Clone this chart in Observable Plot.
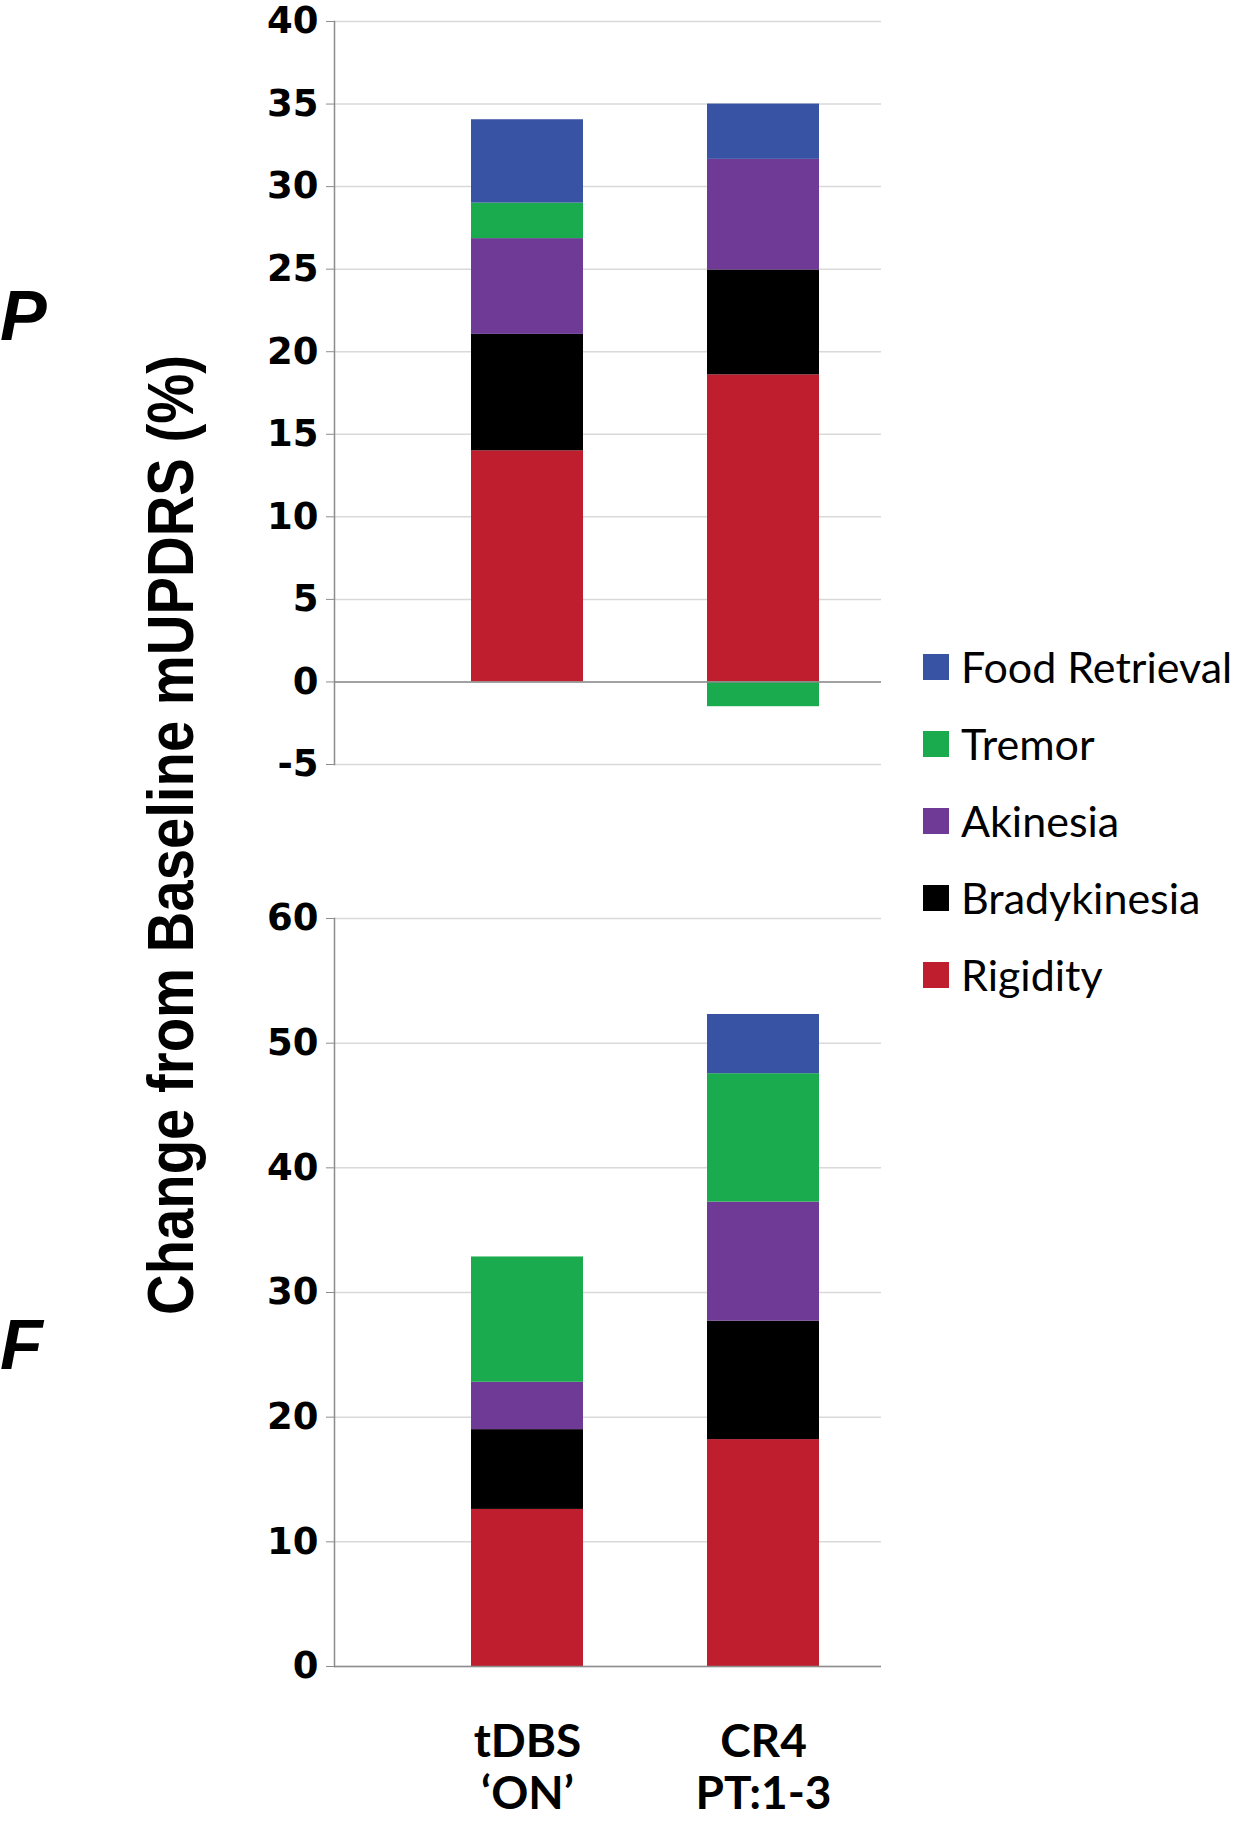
<!DOCTYPE html>
<html><head><meta charset="utf-8">
<script src="https://cdn.jsdelivr.net/npm/d3@7"></script>
<script src="https://cdn.jsdelivr.net/npm/@observablehq/plot@0.6"></script>
<style>
body{margin:0;background:#fff;}
#wrap{position:relative;width:1239px;height:1824px;overflow:hidden;background:#fff;}
.abs{position:absolute;left:0;}
</style></head><body><div id="wrap"></div>
<script>
// ---- data ----
const categories = ["tDBS\n‘ON’", "CR4\nPT:1-3"];
const seriesNames = ["Rigidity", "Bradykinesia", "Akinesia", "Tremor", "Food Retrieval"];
const seriesColors = ["#BE1E2D", "#000000", "#6E3A95", "#1AAB4E", "#3953A4"];
const legendOrder = ["Food Retrieval", "Tremor", "Akinesia", "Bradykinesia", "Rigidity"];
const panelLabels = ["P", "F"];
const yTitle = "Change from Baseline mUPDRS (%)";

// Panel P values [tDBS 'ON', CR4 PT:1-3]
const pRigidity = [14.0, 18.6];
const pBradykinesia = [7.05, 6.35];
const pAkinesia = [5.8, 6.7];
const pTremor = [2.15, -1.5];
const pFood = [5.05, 3.35];
// Panel F values
const fRigidity = [12.6, 18.2];
const fBradykinesia = [6.4, 9.5];
const fAkinesia = [3.8, 9.55];
const fTremor = [10.05, 10.3];
const fFood = [0, 4.75];

const pTicks = [-5, 0, 5, 10, 15, 20, 25, 30, 35, 40];
const fTicks = [0, 10, 20, 30, 40, 50, 60];

function table(arrs) {
  const out = [];
  seriesNames.forEach((s, i) => categories.forEach((c, j) => out.push({cat: c, series: s, value: arrs[i][j]})));
  return out;
}
const pData = table([pRigidity, pBradykinesia, pAkinesia, pTremor, pFood]);
const fData = table([fRigidity, fBradykinesia, fAkinesia, fTremor, fFood]);

const AXIS = "#8c8c8c";
function panel(data, ticks, o) {
  const marks = [
    Plot.gridY(ticks, {stroke: "#d9d9d9", strokeOpacity: 1, strokeWidth: 1.5}),
    Plot.barY(data, {x: "cat", y: "value", fill: "series", order: seriesNames, inset: 0}),
    Plot.ruleY([0], {stroke: AXIS, strokeWidth: 1.5}),
    Plot.frame({anchor: "left", stroke: AXIS, strokeWidth: 1.5}),
    Plot.axisY(ticks, {tickSize: 8, tickPadding: 8, fontSize: 37, fontWeight: "bold",
      fontFamily: "DejaVu Sans", stroke: AXIS, fill: "#000", label: null, tickFormat: d => String(d)})
  ];
  if (o.xaxis) marks.push(Plot.axisX({tickSize: 0, tickPadding: 54, fontSize: 46, fontWeight: "bold",
      fontFamily: "Lato", lineHeight: 1.12, fill: "#000", label: null}));
  return Plot.plot({
    width: 1239, height: o.height,
    marginLeft: 334, marginRight: 358, marginTop: o.mt, marginBottom: o.mb,
    style: {background: "transparent", overflow: "visible"},
    x: {type: "band", domain: categories, paddingInner: 0.525, paddingOuter: 0.42, align: 0.69, axis: o.xaxis ? undefined : null},
    y: {domain: o.domain},
    color: {domain: seriesNames, range: seriesColors},
    marks
  });
}

const wrap = document.getElementById("wrap");
const topChart = panel(pData, pTicks, {height: 790, mt: 21, mb: 26, domain: [-5, 40], xaxis: false});
topChart.classList.add("abs"); topChart.style.top = "0px";
wrap.appendChild(topChart);
const botChart = panel(fData, fTicks, {height: 1024, mt: 118, mb: 158, domain: [0, 60], xaxis: true});
botChart.classList.add("abs"); botChart.style.top = "800px";
wrap.appendChild(botChart);

// overlay: y title and panel letters
const ov = d3.select(wrap).append("svg").attr("class", "abs").style("top", "0px")
  .attr("width", 1239).attr("height", 1824).style("pointer-events", "none");
ov.append("text").attr("transform", "translate(193,835) rotate(-90)")
  .attr("text-anchor", "middle").attr("font-family", "Liberation Sans Narrow, Liberation Sans, sans-serif")
  .attr("font-weight", "bold").attr("font-size", 64).attr("textLength", 960)
  .attr("lengthAdjust", "spacingAndGlyphs").text(yTitle);
ov.selectAll("text.pl").data(panelLabels).join("text").attr("class", "pl")
  .attr("x", 0).attr("y", (d, i) => [340, 1369][i])
  .attr("font-family", "Liberation Sans, sans-serif").attr("font-weight", "bold")
  .attr("font-style", "italic").attr("font-size", 70).text(d => d);

// legend
const color = d3.scaleOrdinal(seriesNames, seriesColors);
const leg = d3.select(wrap).append("div").attr("class", "abs").style("left", "923px").style("top", "628px");
const rows = leg.selectAll("div").data(legendOrder).join("div")
  .style("display", "flex").style("align-items", "center").style("height", "77px");
rows.append("div").style("width", "26px").style("height", "26px").style("background", d => color(d))
  .style("margin-right", "12px").style("flex", "none");
rows.append("div").style("font-family", "Lato, sans-serif").style("font-size", "43px")
  .style("white-space", "nowrap").style("color", "#000").text(d => d);
</script></body></html>
